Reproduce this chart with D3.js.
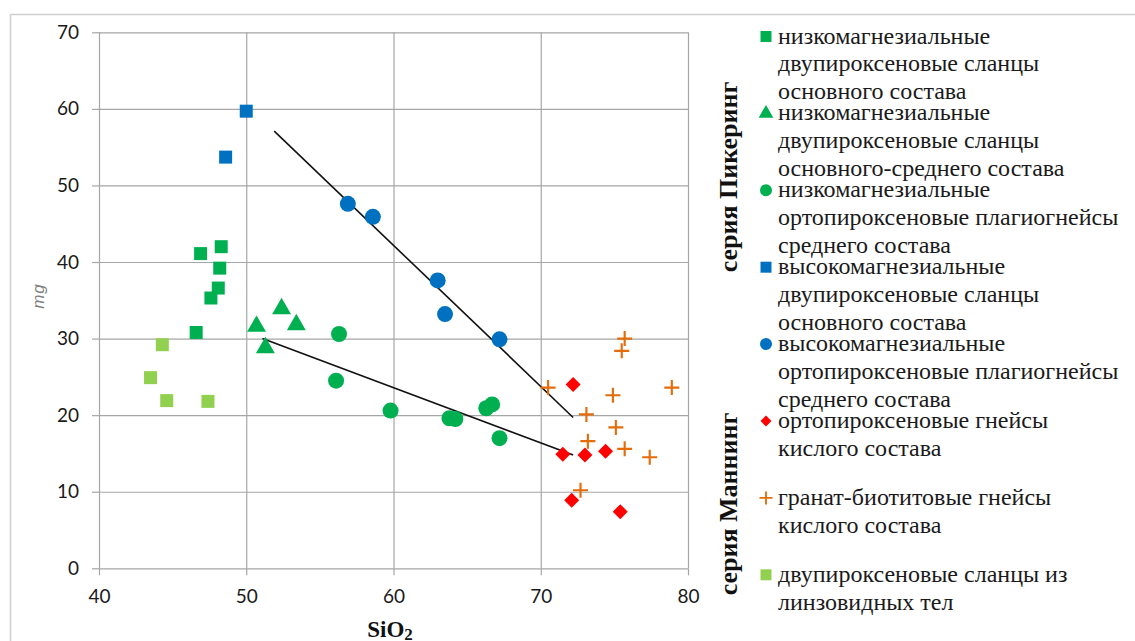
<!DOCTYPE html>
<html>
<head>
<meta charset="utf-8">
<script src="https://cdn.jsdelivr.net/npm/d3@7"></script>
<style>
  body { margin: 0; background: #fff; }
  svg { display: block; }
  .grid line { stroke: #a6a6a6; stroke-width: 1.2; }
  .ticks text { font-family: Lato, "Open Sans", sans-serif; font-size: 19px; fill: #1a1a1a; }
  .ticks line { stroke: #a6a6a6; stroke-width: 1.2; }
  .legend text { font-family: "Liberation Serif", "DejaVu Serif", serif; font-size: 24px; fill: #1a1a1a; }
</style>
</head>
<body>
<svg width="1135" height="641"></svg>
<script>
// x ticks / y ticks
var xTicks = [40, 50, 60, 70, 80]
var yTicks = [0, 10, 20, 30, 40, 50, 60, 70]

// series values (SiO2, mg)
var lowMgSquareX = [46.9, 48.3, 48.2, 48.1, 47.6, 46.6]
var lowMgSquareY = [41.1, 42.0, 39.2, 36.6, 35.3, 30.8]

var lowMgTriX = [50.7, 52.4, 53.4, 51.3]
var lowMgTriY = [31.6, 33.9, 31.8, 28.8]

var lowMgCircX = [56.3, 56.1, 59.8, 63.8, 64.2, 66.3, 66.7, 67.2]
var lowMgCircY = [30.6, 24.5, 20.6, 19.6, 19.5, 20.9, 21.4, 17.0]

var highMgSquareX = [50.0, 48.6]
var highMgSquareY = [59.7, 53.7]

var highMgCircX = [56.9, 58.6, 63.0, 63.5, 67.2]
var highMgCircY = [47.6, 45.9, 37.6, 33.2, 29.9]

var opxGneissX = [72.2, 71.5, 73.0, 74.4, 72.1, 75.4]
var opxGneissY = [24.0, 14.9, 14.8, 15.3, 8.9, 7.4]

var grtBtX = [75.7, 75.5, 70.5, 78.9, 74.9, 73.1, 75.1, 73.2, 75.7, 77.4, 72.7]
var grtBtY = [30.0, 28.4, 23.6, 23.6, 22.6, 20.1, 18.4, 16.6, 15.6, 14.5, 10.2]

var lensX = [44.3, 43.5, 44.6, 47.4]
var lensY = [29.2, 24.9, 21.9, 21.8]

// trend lines
var trendUpperX = [51.9, 72.2]
var trendUpperY = [57.1, 19.7]
var trendLowerX = [51.1, 72.2]
var trendLowerY = [30.0, 14.8]

var legendLabels = [
  ["низкомагнезиальные", "двупироксеновые сланцы", "основного состава"],
  ["низкомагнезиальные", "двупироксеновые сланцы", "основного-среднего состава"],
  ["низкомагнезиальные", "ортопироксеновые плагиогнейсы", "среднего состава"],
  ["высокомагнезиальные", "двупироксеновые сланцы", "основного состава"],
  ["высокомагнезиальные", "ортопироксеновые плагиогнейсы", "среднего состава"],
  ["ортопироксеновые гнейсы", "кислого состава"],
  ["гранат-биотитовые гнейсы", "кислого состава"],
  ["двупироксеновые сланцы из", "линзовидных тел"]
]

var zip = (xs, ys) => xs.map((x, i) => ({x: x, y: ys[i]}))

var series = [
  {data: zip(lowMgSquareX, lowMgSquareY), shape: "square", color: "#00b050"},
  {data: zip(lowMgTriX, lowMgTriY), shape: "triangle", color: "#00b050"},
  {data: zip(lowMgCircX, lowMgCircY), shape: "circle", color: "#00b050"},
  {data: zip(highMgSquareX, highMgSquareY), shape: "square", color: "#0070c0"},
  {data: zip(highMgCircX, highMgCircY), shape: "circle", color: "#0070c0"},
  {data: zip(opxGneissX, opxGneissY), shape: "diamond", color: "#ff0000"},
  {data: zip(grtBtX, grtBtY), shape: "plus", color: "#e46c0a"},
  {data: zip(lensX, lensY), shape: "square", color: "#92d050"}
]

const svg = d3.select("svg")

// outer chart frame
svg.append("path")
  .attr("d", "M10.5,641 L10.5,14.5 L1135,14.5")
  .attr("fill", "none")
  .attr("stroke", "#d0d0d0")
  .attr("stroke-width", 1.5)

const xScale = d3.scaleLinear().domain([40, 80]).range([99, 688])
const yScale = d3.scaleLinear().domain([0, 70]).range([568.3, 32.3])

const plotW = 688 - 99
const plotH = 568.3 - 32.3

// gridlines
svg.append("g")
  .attr("class", "grid")
  .attr("transform", "translate(99,0)")
  .call(d3.axisLeft(yScale).tickValues(yTicks).tickSize(-plotW).tickFormat(""))
  .call(g => g.select(".domain").remove())

svg.append("g")
  .attr("class", "grid")
  .attr("transform", "translate(0,568.3)")
  .call(d3.axisBottom(xScale).tickValues(xTicks).tickSize(-plotH).tickFormat(""))
  .call(g => g.select(".domain").remove())

// axes with small outer ticks + labels
svg.append("g")
  .attr("class", "ticks")
  .attr("transform", "translate(99,0)")
  .call(d3.axisLeft(yScale).tickValues(yTicks).tickSize(7).tickPadding(13))
  .call(g => g.select(".domain").remove())

svg.append("g")
  .attr("class", "ticks")
  .attr("transform", "translate(0,568.3)")
  .call(d3.axisBottom(xScale).tickValues(xTicks).tickSize(7).tickPadding(14))
  .call(g => g.select(".domain").remove())

// trend lines
const line = d3.line().x(d => xScale(d.x)).y(d => yScale(d.y))
;[zip(trendUpperX, trendUpperY), zip(trendLowerX, trendLowerY)].forEach(t => {
  svg.append("path")
    .datum(t)
    .attr("d", line)
    .attr("fill", "none")
    .attr("stroke", "#111")
    .attr("stroke-width", 1.6)
})

// symbol helpers
function symbolPath(shape, s) {
  if (shape === "square") return d3.symbol(d3.symbolSquare, s * s)()
  if (shape === "circle") return d3.symbol(d3.symbolCircle, Math.PI * s * s / 4)()
  if (shape === "triangle") return d3.symbol(d3.symbolTriangle, s * s * 0.48)()
  if (shape === "diamond") return d3.symbol(d3.symbolSquare, s * s * 0.5)()
  if (shape === "plus") {
    var h = s / 2
    return "M" + (-h) + ",0H" + h + "M0," + (-h) + "V" + h
  }
}

function drawMarker(g, shape, color, s) {
  var p = g.append("path").attr("d", symbolPath(shape, s))
  if (shape === "plus") {
    p.attr("fill", "none").attr("stroke", color).attr("stroke-width", s / 7)
  } else {
    p.attr("fill", color)
  }
  if (shape === "diamond") p.attr("transform", "rotate(45)")
  return p
}

var markerSize = {square: 13, circle: 16, triangle: 18, diamond: 15, plus: 15}

series.forEach(sr => {
  svg.append("g")
    .selectAll("g")
    .data(sr.data)
    .join("g")
    .attr("transform", d => "translate(" + xScale(d.x) + "," + yScale(d.y) + ")")
    .each(function () {
      drawMarker(d3.select(this), sr.shape, sr.color, markerSize[sr.shape])
    })
})

// legend
var legend = svg.append("g").attr("class", "legend")
var legendMarkerSize = {square: 11, circle: 12, triangle: 14, diamond: 11, plus: 13}
series.forEach((sr, i) => {
  var base = 43.5 + i * 76.9
  var item = legend.append("g")
  var m = item.append("g").attr("transform", "translate(766," + (base - 7) + ")")
  drawMarker(m, sr.shape, sr.color, legendMarkerSize[sr.shape])
  legendLabels[i].forEach((t, j) => {
    item.append("text")
      .attr("x", 778)
      .attr("y", base + j * 27.8)
      .text(t)
  })
})

// series group labels
;[["серия Пикеринг", 177], ["серия Маннинг", 504]].forEach(d => {
  svg.append("text")
    .attr("transform", "translate(737," + d[1] + ") rotate(-90)")
    .attr("text-anchor", "middle")
    .style("font-family", "'Liberation Serif', serif")
    .style("font-weight", "bold")
    .style("font-size", "26px")
    .style("fill", "#111")
    .text(d[0])
})

// axis titles
svg.append("text")
  .attr("transform", "translate(44,296) rotate(-90)")
  .attr("text-anchor", "middle")
  .style("font-family", "'Liberation Sans', sans-serif")
  .style("font-style", "italic")
  .style("font-size", "17px")
  .style("letter-spacing", "1px")
  .style("fill", "#7f7f7f")
  .text("mg")

var xt = svg.append("text")
  .attr("x", 390)
  .attr("y", 637)
  .attr("text-anchor", "middle")
  .style("font-family", "'Liberation Serif', serif")
  .style("font-weight", "bold")
  .style("font-size", "23px")
  .style("fill", "#111")
xt.append("tspan").text("SiO")
xt.append("tspan").attr("dy", 3).style("font-size", "17px").text("2")
</script>
</body>
</html>
